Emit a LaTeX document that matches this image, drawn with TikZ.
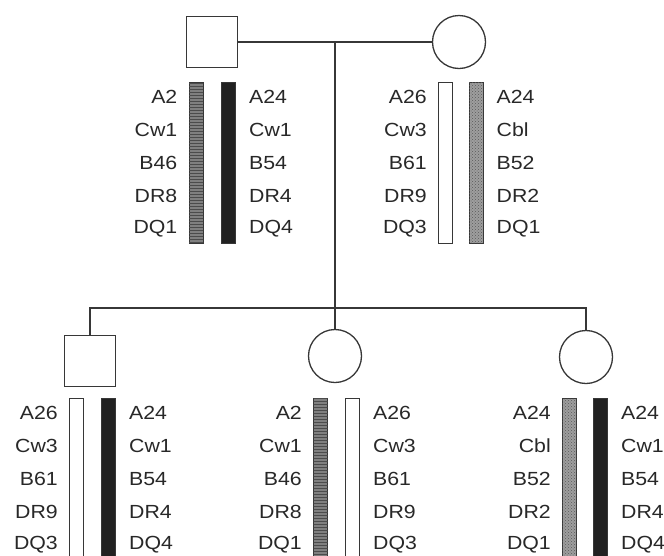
\documentclass[tikz,border=0pt]{standalone}
\usepackage{fontspec}
\setmainfont{Liberation Sans}
\newfontfamily\hlafont[FakeStretch=1.12]{Liberation Sans}
\usetikzlibrary{patterns, positioning}
\definecolor{PedLine}{RGB}{55, 55, 55}
\definecolor{PedText}{RGB}{40, 40, 40}

% allele columns beside a haplotype bar
\newcommand{\hlaleft}[3]{\foreach \al [count=\i] in {#3}
  \node[hla, anchor=east, xshift=-11pt] (#1-\i) at (#1.west |- #2\i) {\al};}
\newcommand{\hlaright}[3]{\foreach \al [count=\i] in {#3}
  \node[hla, anchor=west, xshift=13pt] (#1-\i) at (#1.east |- #2\i) {\al};}

\begin{document}
\begin{tikzpicture}[x=1pt, y=-1pt,
  male/.style={draw=PedLine, line width=1.3pt, minimum size=51pt, inner sep=0pt},
  female/.style={circle, draw=PedLine, line width=1.3pt, minimum size=53pt, inner sep=0pt},
  link/.style={draw=PedLine, line width=1.3pt},
  hapbar/.style={draw=PedLine, line width=1pt, minimum width=14pt, minimum height=161pt, inner sep=0pt, anchor=north},
  hapA/.style={fill=black!50, postaction={pattern=horizontal lines, pattern color=black!70}},
  hapB/.style={fill=black!87},
  hapC/.style={fill=white},
  hapD/.style={fill=black!38, postaction={pattern=crosshatch dots, pattern color=black!65}},
  hla/.style={font=\hlafont\fontsize{19}{21}\selectfont, text=PedText, inner sep=0pt}]
  \useasboundingbox (0,0) rectangle (664,555);
  \clip (0,0) rectangle (664,555);

  % parents
  \node[male] (father) at (212,42) {};
  \node[female] (mother) at (459,42) {};
  \draw[link] (father.east) -- (mother.west) coordinate[midway] (mate);

  % children
  \coordinate (sib) at (335,308);
  \node[male] (son) at (90,361) {};
  \node[female] (dau1) at (335,356) {};
  \node[female] (dau2) at (586,357) {};
  \draw[link] (mate) -- (dau1.north);
  \draw[link] (son.north) |- (sib) -| (dau2.north);

  % rows of alleles
  \foreach \i in {1,...,5} {
    \coordinate (top\i) at (0,{64+33*\i});
    \coordinate (bot\i) at (0,{380+33*\i});
  }

  % haplotype bars
  \foreach \nm/\bx/\by/\sty in {fa/196/82/hapA, fb/228.5/82/hapB, ma/445.5/82/hapC, mb/476/82/hapD,
      sa/76.5/398/hapC, sb/108.5/398/hapB, da/320.5/398/hapA, db/352.5/398/hapC,
      ea/569.5/398/hapD, eb/600.5/398/hapB}
    \node[hapbar, \sty] (\nm) at (\bx,\by) {};

  \hlaleft{fa}{top}{A2,Cw1,B46,DR8,DQ1}
  \hlaright{fb}{top}{A24,Cw1,B54,DR4,DQ4}
  \hlaleft{ma}{top}{A26,Cw3,B61,DR9,DQ3}
  \hlaright{mb}{top}{A24,Cbl,B52,DR2,DQ1}

  \hlaleft{sa}{bot}{A26,Cw3,B61,DR9,DQ3}
  \hlaright{sb}{bot}{A24,Cw1,B54,DR4,DQ4}
  \hlaleft{da}{bot}{A2,Cw1,B46,DR8,DQ1}
  \hlaright{db}{bot}{A26,Cw3,B61,DR9,DQ3}
  \hlaleft{ea}{bot}{A24,Cbl,B52,DR2,DQ1}
  \hlaright{eb}{bot}{A24,Cw1,B54,DR4,DQ4}
\end{tikzpicture}
\end{document}
